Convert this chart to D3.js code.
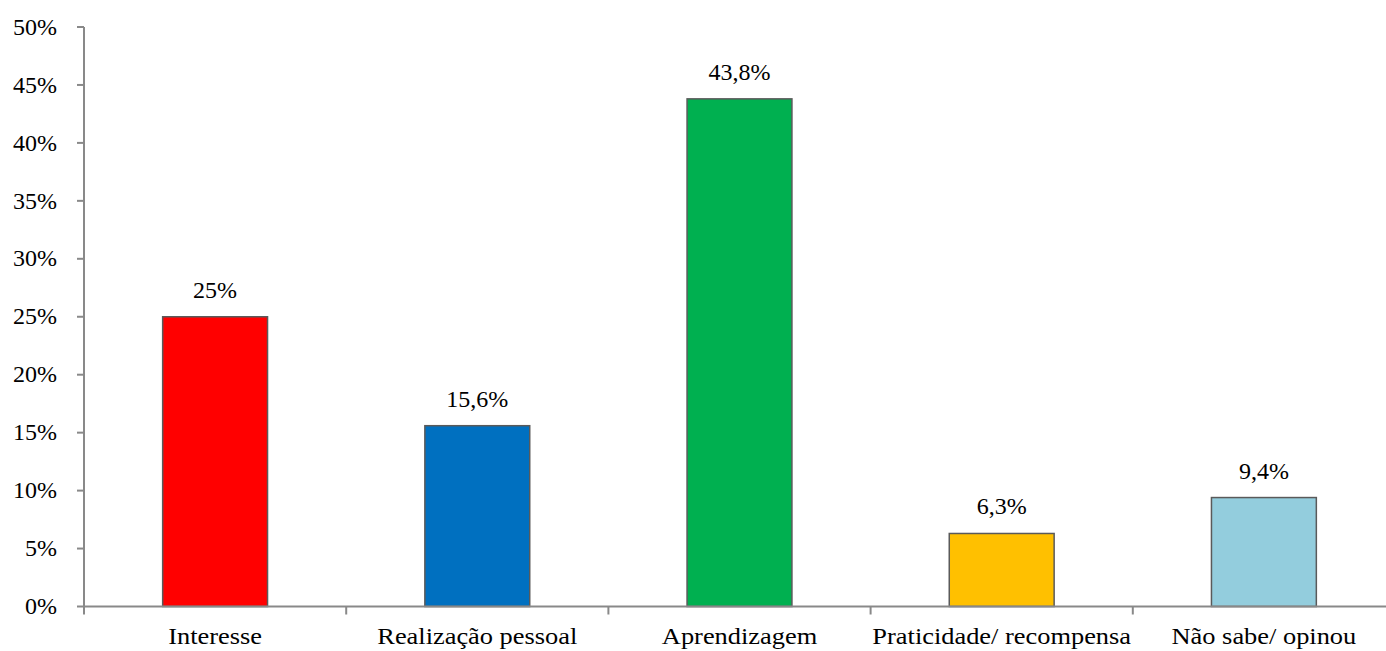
<!DOCTYPE html>
<html><head><meta charset="utf-8">
<script src="https://cdn.jsdelivr.net/npm/d3@7"></script>
</head><body style="margin:0;background:#fff">
<svg id="c" width="1386" height="651"></svg>
<script>
const categories = ["Interesse","Realização pessoal","Aprendizagem","Praticidade/ recompensa","Não sabe/ opinou"];
const values = [25, 15.6, 43.8, 6.3, 9.4];
const valueLabels = ["25%","15,6%","43,8%","6,3%","9,4%"];
const colors = ["#FF0000","#0070C0","#00B050","#FFC000","#93CDDD"];
const yTicks = [0,5,10,15,20,25,30,35,40,45,50];

const FONT = "'Liberation Serif'";
const FS = "24px";
const SX = 1.1; // horizontal stretch of the category labels
const svg = d3.select("#c");
const x = d3.scaleBand().domain(categories).range([84, 1395]).paddingInner(0.6).paddingOuter(0.3);
const y = d3.scaleLinear().domain([0,50]).range([606.5, 27]);
const axisColor = "#898989";

function txt(sel){ return sel.style("font-family",FONT).style("font-size",FS).attr("fill","#000"); }

// y axis
const ya = svg.append("g").attr("transform","translate(84,0)");
ya.append("line").attr("y1",y(0)).attr("y2",y(50)).attr("stroke",axisColor).attr("stroke-width",2);
ya.selectAll("line.t").data(yTicks).enter().append("line")
  .attr("x1",-7).attr("x2",0).attr("y1",d=>y(d)).attr("y2",d=>y(d)).attr("stroke",axisColor).attr("stroke-width",2);
txt(ya.selectAll("text").data(yTicks).enter().append("text"))
  .attr("text-anchor","end").attr("dy","0.32em")
  .attr("x",-27).attr("y",d=>y(d))
  .text(d=>d+"%");

// bars
svg.selectAll("rect.bar").data(categories).enter().append("rect")
  .attr("x", d=>x(d)).attr("width", x.bandwidth())
  .attr("y", (d,i)=>y(values[i])).attr("height",(d,i)=>y(0)-y(values[i]))
  .attr("fill",(d,i)=>colors[i]).attr("stroke","#5a5a5a").attr("stroke-width",1.5);

// x axis
const xb = d3.scaleBand().domain(categories).range([84,1395]);
const xa = svg.append("g").attr("transform","translate(0,"+y(0)+")");
xa.append("line").attr("x1",84).attr("x2",1395).attr("stroke",axisColor).attr("stroke-width",2);
const tickPos = categories.map(c=>xb(c)).concat([1395]);
xa.selectAll("line.t").data(tickPos).enter().append("line")
  .attr("x1",d=>d).attr("x2",d=>d).attr("y1",0).attr("y2",8).attr("stroke",axisColor).attr("stroke-width",2);
txt(xa.selectAll("text").data(categories).enter().append("text"))
  .attr("text-anchor","middle")
  .attr("transform",d=>"translate("+(xb(d)+xb.bandwidth()/2)+",37) scale("+SX+",1)")
  .text(d=>d);

// value labels
txt(svg.selectAll("text.val").data(categories).enter().append("text"))
  .attr("text-anchor","middle")
  .attr("x",d=>x(d)+x.bandwidth()/2).attr("y",(d,i)=>y(values[i])-19)
  .text((d,i)=>valueLabels[i]);
</script>
</body></html>
